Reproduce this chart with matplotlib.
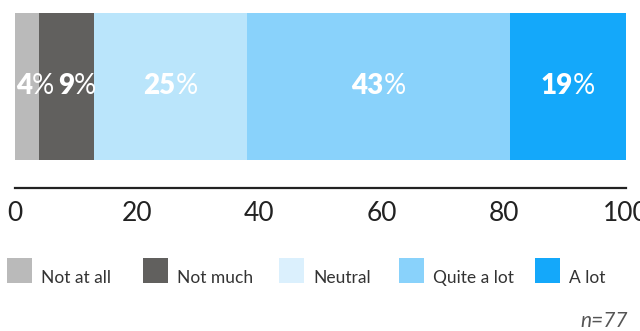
import matplotlib
matplotlib.use("Agg")
import matplotlib.pyplot as plt
from matplotlib.patches import Rectangle
from matplotlib.offsetbox import TextArea, HPacker, AnnotationBbox

plt.rcParams['font.family'] = ['Lato', 'DejaVu Sans']

# survey answers, share of respondents (%)
categories = ["Not at all", "Not much", "Neutral", "Quite a lot", "A lot"]
shares = [4, 9, 25, 43, 19]
bar_colors = ["#bababa", "#61605e", "#bae5fb", "#89d2fb", "#14a8fa"]
legend_colors = ["#bababa", "#61605e", "#dbf0fd", "#89d2fb", "#14a8fa"]
x_ticks = [0, 20, 40, 60, 80, 100]
sample_note = "n=77"

# small segments push their labels a bit to the right so they don't collide
label_nudge = [8, 10, 0, 0, 0]

fig = plt.figure(figsize=(6.4, 3.31), dpi=100)
ax = fig.add_axes([15 / 640, 1 - 188 / 331, 611 / 640, 175 / 331])

left = 0
for share, color, nudge in zip(shares, bar_colors, label_nudge):
    ax.barh(0.58, share, left=left, height=0.84, color=color, linewidth=0)
    # bold number with a lighter percent sign, centred in the segment
    num = TextArea(str(share), textprops=dict(color="white", fontsize=20, fontweight="heavy"))
    pct = TextArea("%", textprops=dict(color="white", fontsize=20, fontweight="normal"))
    box = HPacker(children=[num, pct], pad=0, sep=0, align="baseline")
    ab = AnnotationBbox(box, (left + share / 2, 0.58), xybox=(nudge, 0),
                        boxcoords="offset pixels", frameon=False,
                        box_alignment=(0.5, 0.5), pad=0)
    ax.add_artist(ab)
    left += share

ax.set_xlim(0, 100)
ax.set_ylim(0, 1)
ax.set_xticks(x_ticks)
ax.tick_params(axis="x", length=0, pad=9, labelsize=19, labelcolor="#222222")
ax.set_yticks([])
for side in ["top", "right", "left"]:
    ax.spines[side].set_visible(False)
ax.spines["bottom"].set_linewidth(1.6)
ax.spines["bottom"].set_color("#222222")

# legend drawn by hand: square swatch with the label sitting at its bottom
legend_x = [7, 143, 279, 399, 535]
for x, label, color in zip(legend_x, categories, legend_colors):
    fig.patches.append(Rectangle((x / 640, 1 - 283 / 331), 25 / 640, 25 / 331,
                                 transform=fig.transFigure, color=color, linewidth=0))
    fig.text((x + 34) / 640, 1 - 283 / 331, label, fontsize=12.5, color="#333333",
             ha="left", va="baseline")

fig.text(628 / 640, 1 - 327 / 331, sample_note, fontsize=15, color="#555555",
         style="italic", ha="right", va="baseline")

fig.savefig("out.png", dpi=100)
